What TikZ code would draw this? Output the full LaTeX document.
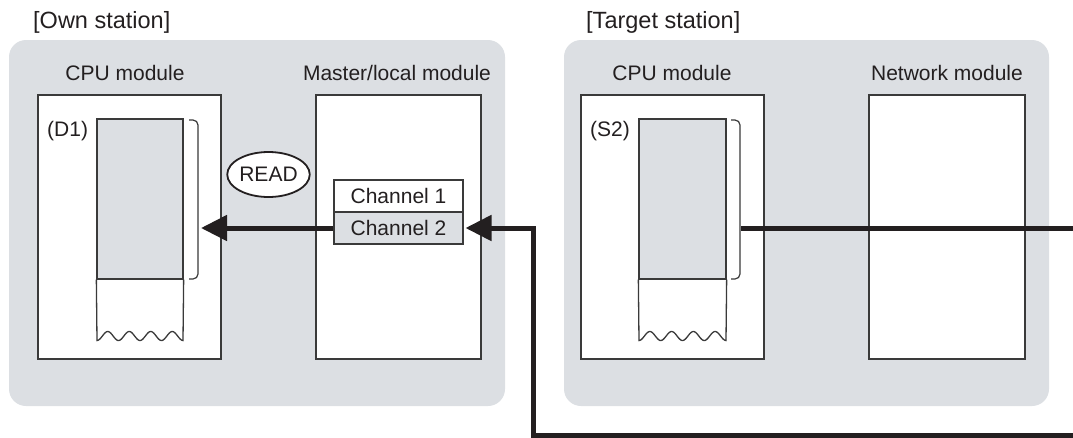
\documentclass[tikz,border=0pt]{standalone}
\usepackage{fontspec}
\setmainfont{Liberation Sans}
\usetikzlibrary{arrows.meta,shapes.geometric}
\definecolor{panelgray}{HTML}{DCDFE3}
\definecolor{linegray}{HTML}{3A3A3A}
\definecolor{ink}{HTML}{231F20}
\begin{document}
\begin{tikzpicture}[x=1pt,y=-1pt,
  font=\fontsize{21}{25}\selectfont,
  panel/.style={draw=none, fill=panelgray, rounded corners=17pt, inner sep=0pt, minimum height=366pt},
  module/.style={draw=linegray, fill=white, line width=1.5pt, inner sep=0pt, minimum height=264pt},
  memtop/.style={draw=linegray, fill=panelgray, line width=1.3pt, inner sep=0pt, minimum height=160pt},
  chan/.style={draw=linegray, line width=1.3pt, inner sep=0pt, minimum width=129pt, minimum height=32pt, text=ink},
  lbl/.style={text=ink, inner sep=0pt, anchor=base},
  lblw/.style={text=ink, inner sep=0pt, anchor=base west},
  title/.style={text=ink, inner sep=0pt, anchor=base west, font=\fontsize{23.5}{28}\selectfont},
  thin/.style={draw=linegray, line width=1.3pt},
  brace/.style={draw=linegray, line width=1.2pt, rounded corners=5pt},
  flow/.style={draw=ink, line width=5pt, line join=miter},
  flowarrow/.style={-{Triangle[length=26pt,width=25pt]}}
]
\useasboundingbox (0,0) rectangle (1073,437);

% panels
\node[panel, minimum width=496pt] (own) at (257,223) {};
\node[panel, minimum width=485pt] (target) at (806.5,223) {};
\node[title] (ownlbl) at (33,28.5) {[Own station]};
\node[title] (tgtlbl) at (586,28.5) {[Target station]};

% module boxes
\node[module, minimum width=183pt] (cpu1) at (129.5,227) {};
\node[module, minimum width=165pt] (master) at (398.5,227) {};
\node[module, minimum width=183pt] (cpu2) at (672.5,227) {};
\node[module, minimum width=156pt] (net) at (947,227) {};

\node[lbl] (cpu1lbl) at (125,80.5) {CPU module};
\node[lbl] (masterlbl) at (397,80.5) {Master/local module};
\node[lbl] (cpu2lbl) at (672,80.5) {CPU module};
\node[lbl] (netlbl) at (947,80.5) {Network module};

% memory columns
\node[memtop, minimum width=86pt] (mem1) at (140,199) {};
\draw[thin] (mem1.south west) -- plot[domain=97:183, samples=80, smooth] (\x,{336+4.5*cos(16.744*(\x-97))}) -- (mem1.south east);
\node[memtop, minimum width=87pt] (mem2) at (682.5,199) {};
\draw[thin] (mem2.south west) -- plot[domain=639:726, samples=80, smooth] (\x,{336+4.5*cos(16.552*(\x-639))}) -- (mem2.south east);

\node[lblw] (d1) at (47,136) {(D1)};
\node[lblw] (s2) at (590,136) {(S2)};

% braces
\draw[brace] (189,120) -- (198,120) -- (198,279) -- (189,279);
\draw[brace] (731,120) -- (740,120) -- (740,279) -- (731,279);

% channels
\node[chan, fill=white] (ch1) at (398.5,196) {Channel 1};
\node[chan, fill=panelgray] (ch2) at (398.5,228) {Channel 2};

% READ
\node[ellipse, draw=ink, line width=1.8pt, fill=white, minimum width=79pt, minimum height=45pt, inner sep=0pt, text=ink] (read) at (268.5,174.5) {READ};

% connectors
\coordinate (in1) at (201,228);
\coordinate (in2) at (465.5,228);
\coordinate (bend1) at (533.5,228);
\coordinate (bend2) at (533.5,435);
\coordinate (offb) at (1076,435);
\coordinate (src) at (741,228);
\coordinate (offt) at (1076,228);

\draw[flow, flowarrow] (ch2.west) -- (in1);
\draw[flow, flowarrow] (offb) -- (bend2) -- (bend1) -- (in2);
\draw[flow] (src) -- (offt);
\end{tikzpicture}
\end{document}
